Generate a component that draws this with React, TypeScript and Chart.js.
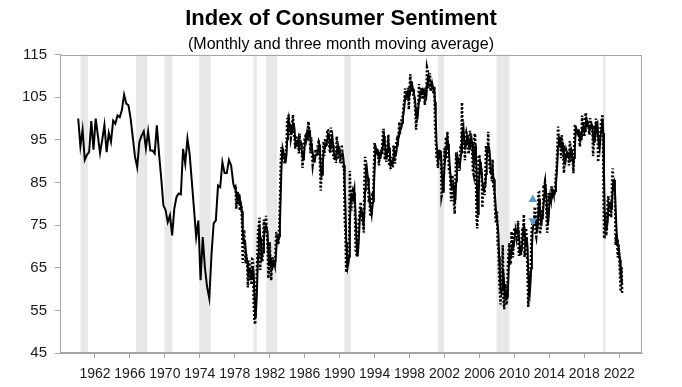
import React, { useEffect, useRef } from "react";
import { Chart, registerables } from "chart.js";

Chart.register(...registerables);

const TITLE = "Index of Consumer Sentiment";
const SUBTITLE = "(Monthly and three month moving average)";

// x-axis labelled years and y-axis ticks
const xTickYears = [1962, 1966, 1970, 1974, 1978, 1982, 1986, 1990, 1994, 1998, 2002, 2006, 2010, 2014, 2018, 2022];
const yTicks = [45, 55, 65, 75, 85, 95, 105, 115];

// Quarterly survey readings (Feb, May, Aug, Nov) 1960-1977
const quarterlyStartYear = 1960;
const quarterlyValues = [
  100.0, 93.5, 97.4, 90.3, // 1960
  91.5, 92.1, 99.4, 92.7, // 1961
  100.0, 96.0, 91.9, 95.0, // 1962
  98.5, 92.1, 96.6, 94.5, // 1963
  99.5, 98.8, 100.7, 100.3, // 1964
  102.0, 105.6, 103.5, 103.1, // 1965
  100.0, 95.5, 91.0, 88.6, // 1966
  94.5, 96.0, 97.0, 93.0, // 1967
  97.0, 92.5, 92.5, 91.8, // 1968
  98.4, 91.7, 86.0, 79.6, // 1969
  78.5, 75.7, 77.3, 72.6, // 1970
  78.9, 81.6, 82.4, 82.2, // 1971
  92.9, 89.4, 95.3, 91.7, // 1972
  85.3, 78.8, 72.2, 76.1, // 1973
  62.1, 72.2, 65.0, 60.5, // 1974
  57.8, 68.0, 75.4, 76.1, // 1975
  84.3, 83.9, 89.8, 87.2, // 1976
  87.2, 90.3, 89.0, 84.7, // 1977
];

// Monthly readings from January 1978 to May 2022
const monthlyStartYear = 1978;
const monthlyValues = [
  83.7, 84.3, 78.8, 81.6, 82.9, 80.0, 82.4, 78.4, 80.4, 79.3, 75.0, 66.1, // 1978
  72.1, 73.9, 68.4, 66.0, 68.1, 65.8, 60.4, 64.5, 66.7, 62.1, 63.3, 61.0, // 1979
  67.0, 66.9, 56.5, 52.7, 51.7, 58.7, 62.3, 67.3, 73.7, 75.0, 76.7, 64.5, // 1980
  71.4, 66.9, 66.5, 72.4, 76.3, 73.1, 74.1, 77.2, 73.1, 70.3, 62.5, 64.3, // 1981
  71.0, 66.5, 62.0, 65.5, 67.5, 65.7, 65.4, 65.4, 69.3, 73.4, 72.1, 71.9, // 1982
  70.4, 74.6, 80.8, 89.1, 93.3, 92.2, 92.8, 90.9, 89.9, 89.3, 91.1, 94.2, // 1983
  100.1, 97.4, 101.0, 96.1, 98.1, 95.5, 96.6, 99.1, 100.9, 96.3, 95.7, 92.9, // 1984
  96.0, 93.7, 93.7, 94.6, 91.8, 96.5, 94.0, 92.4, 92.1, 88.4, 90.9, 93.9, // 1985
  95.6, 95.9, 95.1, 96.2, 94.8, 99.3, 97.7, 94.9, 91.9, 95.6, 91.4, 89.1, // 1986
  90.4, 90.2, 90.8, 92.8, 91.1, 91.5, 93.7, 94.4, 93.6, 89.3, 83.1, 86.8, // 1987
  90.8, 91.6, 94.6, 91.2, 94.8, 94.7, 93.4, 97.4, 97.3, 94.1, 93.0, 91.9, // 1988
  97.9, 95.4, 94.3, 91.5, 90.7, 90.6, 92.0, 89.6, 95.8, 93.9, 90.9, 90.5, // 1989
  93.0, 89.5, 91.3, 93.9, 90.6, 88.3, 88.2, 76.4, 72.8, 63.9, 66.0, 65.5, // 1990
  66.8, 70.4, 87.7, 81.8, 78.3, 82.1, 82.9, 82.0, 83.0, 78.3, 69.1, 68.2, // 1991
  67.5, 68.8, 76.0, 77.2, 79.2, 80.4, 76.6, 76.1, 75.6, 73.3, 85.3, 91.0, // 1992
  89.3, 86.6, 85.9, 85.6, 80.3, 81.5, 77.0, 77.3, 77.9, 82.7, 81.2, 88.2, // 1993
  94.3, 93.2, 91.5, 92.6, 92.8, 91.2, 89.0, 91.7, 91.5, 92.7, 91.6, 95.1, // 1994
  97.6, 95.1, 90.3, 92.5, 89.8, 92.7, 94.4, 96.2, 88.9, 90.2, 88.2, 91.0, // 1995
  89.3, 88.5, 93.7, 92.7, 89.4, 92.4, 94.7, 95.3, 94.7, 96.5, 99.2, 96.9, // 1996
  97.4, 99.7, 100.0, 101.4, 103.2, 104.5, 107.1, 104.4, 106.0, 105.6, 107.2, 102.1, // 1997
  106.6, 110.4, 106.5, 108.7, 106.5, 105.6, 105.2, 104.4, 100.9, 97.4, 102.7, 100.5, // 1998
  103.9, 108.1, 105.7, 104.6, 106.8, 107.3, 106.0, 104.5, 107.2, 103.2, 107.2, 105.4, // 1999
  112.0, 111.3, 107.1, 109.2, 110.7, 106.4, 108.3, 107.3, 106.8, 105.8, 107.6, 98.4, // 2000
  94.7, 90.6, 91.5, 88.4, 92.0, 92.6, 92.4, 91.5, 81.8, 82.7, 83.9, 88.8, // 2001
  93.0, 90.7, 95.7, 93.0, 96.9, 92.4, 88.1, 87.6, 86.1, 80.6, 84.2, 86.7, // 2002
  82.4, 79.9, 77.6, 86.0, 92.1, 89.7, 90.9, 89.3, 87.7, 89.6, 93.7, 92.6, // 2003
  103.8, 94.4, 95.8, 94.2, 90.2, 95.6, 96.7, 95.9, 94.2, 91.7, 92.8, 97.1, // 2004
  95.5, 94.1, 92.6, 87.7, 86.9, 96.0, 96.5, 89.1, 76.9, 74.2, 81.6, 91.5, // 2005
  91.2, 86.7, 88.9, 87.4, 79.1, 84.9, 84.7, 82.0, 85.4, 93.6, 92.1, 91.7, // 2006
  96.9, 91.3, 88.4, 87.1, 88.3, 85.3, 90.4, 83.4, 83.4, 80.9, 76.1, 75.5, // 2007
  78.4, 70.8, 69.5, 62.6, 59.8, 56.4, 61.2, 63.0, 70.3, 57.6, 55.3, 60.1, // 2008
  61.2, 56.3, 57.3, 65.1, 68.7, 70.8, 66.0, 65.7, 73.5, 70.6, 67.4, 72.5, // 2009
  74.4, 73.6, 73.6, 72.2, 73.6, 76.0, 67.8, 68.9, 68.2, 67.7, 71.6, 74.5, // 2010
  74.2, 77.5, 67.5, 69.8, 74.3, 71.5, 63.7, 55.8, 59.5, 60.8, 63.7, 69.9, // 2011
  75.0, 75.3, 76.2, 76.4, 79.3, 73.2, 72.3, 74.3, 78.3, 82.6, 82.7, 72.9, // 2012
  73.8, 77.6, 78.6, 76.4, 84.5, 84.1, 85.1, 82.1, 77.5, 73.2, 75.1, 82.5, // 2013
  81.2, 81.6, 80.0, 84.1, 81.9, 82.5, 81.8, 82.5, 84.6, 86.9, 88.8, 93.6, // 2014
  98.1, 95.4, 93.0, 95.9, 90.7, 96.1, 93.1, 91.9, 87.2, 90.0, 91.3, 92.6, // 2015
  92.0, 91.7, 91.0, 89.0, 94.7, 93.5, 90.0, 89.8, 91.2, 87.2, 93.8, 98.2, // 2016
  98.5, 96.3, 96.9, 97.0, 97.1, 95.0, 93.4, 96.8, 95.1, 100.7, 98.5, 95.9, // 2017
  95.7, 99.7, 101.4, 98.8, 98.0, 98.2, 97.9, 96.2, 100.1, 98.6, 97.5, 98.3, // 2018
  91.2, 93.8, 98.4, 97.2, 100.0, 98.2, 98.4, 89.8, 93.2, 95.5, 96.8, 99.3, // 2019
  99.8, 101.0, 89.1, 71.8, 72.3, 78.1, 72.5, 74.1, 80.4, 81.8, 76.9, 80.7, // 2020
  79.0, 76.8, 84.9, 88.3, 82.9, 85.5, 81.2, 70.3, 72.8, 71.7, 67.4, 70.6, // 2021
  67.2, 62.8, 59.4, 65.2, 59.1, // 2022
];

// Blue markers (up / down) near 2012
const markerYear = 2012.1;
const markerValues = [81.0, 76.0];

// Shaded recession periods (decimal years)
const recessionStarts = [1960.35, 1966.7, 1969.95, 1973.95, 1980.15, 1981.6, 1990.55, 2001.25, 2007.95, 2020.15];
const recessionEnds = [1961.2, 1968.0, 1970.85, 1975.25, 1980.55, 1982.85, 1991.25, 2001.95, 2009.45, 2020.4];

const FONT = "'Liberation Sans', Arial, Helvetica, sans-serif";

export default function App() {
  const canvasRef = useRef<HTMLCanvasElement | null>(null);

  useEffect(() => {
    const canvas = canvasRef.current;
    if (!canvas) return;

    const quarterlyPoints = quarterlyValues.map((v, i) => ({
      x: quarterlyStartYear + (1 + 3 * i) / 12,
      y: v,
    }));
    const monthlyPoints = monthlyValues.map((v, i) => ({
      x: monthlyStartYear + i / 12,
      y: v,
    }));
    // three month moving average of the monthly readings (as named in the subtitle)
    const movingAverage = monthlyValues.map((_, i) => {
      const from = Math.max(0, i - 2);
      const win = monthlyValues.slice(from, i + 1);
      return {
        x: monthlyStartYear + i / 12,
        y: win.reduce((a, b) => a + b, 0) / win.length,
      };
    });
    const solidPoints = [...quarterlyPoints, ...movingAverage];
    const markerPoints = markerValues.map((v) => ({ x: markerYear, y: v }));

    const bandsPlugin = {
      id: "recessionBands",
      beforeDatasetsDraw(chart: any) {
        const { ctx, chartArea } = chart;
        const xs = chart.scales.x;
        ctx.save();
        ctx.fillStyle = "#e8e8e8";
        recessionStarts.forEach((s, i) => {
          const x0 = xs.getPixelForValue(s);
          const x1 = xs.getPixelForValue(recessionEnds[i]);
          ctx.fillRect(x0, chartArea.top, Math.max(1, x1 - x0), chartArea.bottom - chartArea.top);
        });
        ctx.restore();
      },
      afterDraw(chart: any) {
        const { ctx, chartArea } = chart;
        ctx.save();
        ctx.strokeStyle = "#a6a6a6";
        ctx.lineWidth = 1;
        ctx.strokeRect(
          Math.round(chartArea.left) + 0.5,
          Math.round(chartArea.top) + 0.5,
          Math.round(chartArea.right - chartArea.left) - 1,
          Math.round(chartArea.bottom - chartArea.top) - 1
        );
        ctx.restore();
      },
    };

    const chart = new Chart(canvas, {
      type: "line",
      data: {
        datasets: [
          {
            label: "Monthly",
            data: monthlyPoints,
            borderColor: "#000000",
            borderWidth: 2.5,
            borderDash: [2, 2],
            pointRadius: 0,
            tension: 0,
            order: 3,
          },
          {
            label: "Three month moving average",
            data: solidPoints,
            borderColor: "#000000",
            borderWidth: 2,
            pointRadius: 0,
            tension: 0,
            order: 2,
          },
          {
            label: "Markers",
            data: markerPoints,
            showLine: false,
            pointStyle: "triangle",
            rotation: [0, 180],
            pointRadius: 5,
            pointBackgroundColor: "#5b9bd5",
            pointBorderColor: "#5b9bd5",
            borderWidth: 0,
            order: 1,
          } as any,
        ],
      },
      options: {
        animation: false,
        responsive: false,
        devicePixelRatio: 1,
        events: [],
        layout: { padding: { left: 0, right: 0, top: 0, bottom: 0 } },
        plugins: {
          legend: { display: false },
          tooltip: { enabled: false },
          title: {
            display: true,
            text: TITLE,
            color: "#000000",
            font: { family: FONT, size: 22, weight: "bold" },
            padding: { top: 6, bottom: 0 },
          },
          subtitle: {
            display: true,
            text: SUBTITLE,
            color: "#000000",
            font: { family: FONT, size: 16 },
            padding: { top: 3, bottom: 0 },
          },
        },
        scales: {
          x: {
            type: "linear",
            min: 1958,
            max: 2024.6,
            afterBuildTicks: (scale: any) => {
              scale.ticks = xTickYears.map((v) => ({ value: v }));
            },
            afterFit: (scale: any) => {
              scale.height = 34;
            },
            ticks: {
              color: "#1a1a1a",
              font: { family: FONT, size: 14 },
              padding: 8,
              maxRotation: 0,
              autoSkip: false,
              callback: (v: any) => String(v),
            },
            grid: {
              drawOnChartArea: false,
              drawTicks: true,
              tickLength: 5,
              color: "#a6a6a6",
            },
            border: { display: true, color: "#a6a6a6" },
          },
          y: {
            type: "linear",
            min: 45,
            max: 115,
            afterBuildTicks: (scale: any) => {
              scale.ticks = yTicks.map((v) => ({ value: v }));
            },
            afterFit: (scale: any) => {
              scale.width = 60;
            },
            ticks: {
              color: "#1a1a1a",
              font: { family: FONT, size: 15 },
              padding: 8,
              callback: (v: any) => String(v),
            },
            grid: {
              drawOnChartArea: false,
              drawTicks: true,
              tickLength: 5,
              color: "#a6a6a6",
            },
            border: { display: true, color: "#a6a6a6" },
          },
          yr: {
            type: "linear",
            position: "right",
            display: true,
            ticks: { display: false },
            grid: { display: false, drawTicks: false },
            border: { display: false },
            afterFit: (scale: any) => {
              scale.width = 40;
            },
          },
        },
      },
      plugins: [bandsPlugin],
    });

    return () => {
      chart.destroy();
    };
  }, []);

  return (
    <div
      style={{
        position: "fixed",
        left: 0,
        top: 0,
        width: 682,
        height: 387,
        background: "#ffffff",
      }}
    >
      <canvas ref={canvasRef} width={682} height={387} style={{ display: "block" }} />
    </div>
  );
}
